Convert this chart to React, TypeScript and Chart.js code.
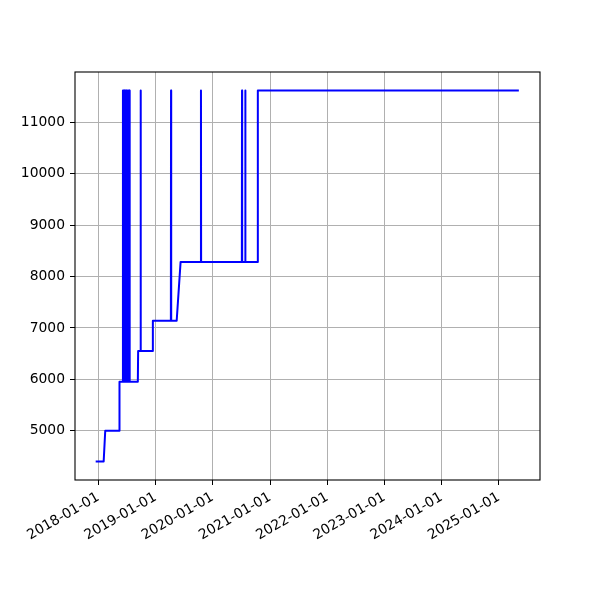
import React, { useEffect, useRef } from 'react';
import { Chart, registerables } from 'chart.js';

Chart.register(...registerables);

const DATES = [
  '2017-12-15', '2018-02-04', '2018-02-14', '2018-05-13', '2018-05-16', '2018-06-05',
  '2018-06-07', '2018-06-09', '2018-06-11', '2018-06-13', '2018-06-15', '2018-06-17',
  '2018-06-19', '2018-06-21', '2018-06-23', '2018-06-25', '2018-06-27', '2018-06-29',
  '2018-07-01', '2018-07-03', '2018-07-05', '2018-07-07', '2018-07-09', '2018-07-11',
  '2018-07-13', '2018-07-15', '2018-07-17', '2018-07-19', '2018-07-20', '2018-07-21',
  '2018-09-10', '2018-09-12', '2018-09-27', '2018-09-28', '2018-09-29',
  '2018-12-14', '2018-12-15', '2019-04-09', '2019-04-10', '2019-04-11',
  '2019-05-16', '2019-06-10', '2019-10-17', '2019-10-18', '2019-10-19',
  '2020-07-05', '2020-07-06', '2020-07-07', '2020-07-26', '2020-07-27', '2020-07-28',
  '2020-10-14', '2020-10-15', '2025-05-08',
];

const VALUES = [
  4405, 4405, 5000, 5000, 5954, 5954,
  11615, 5954, 11615, 5954, 11615, 5954,
  11615, 5954, 11615, 5954, 11615, 5954,
  11615, 5954, 11615, 5954, 11615, 5954,
  11615, 5954, 11615, 5954, 11615, 5954,
  5954, 6553, 6553, 11615, 6553,
  6553, 7140, 7140, 11615, 7140,
  7140, 8284, 8284, 11615, 8284,
  8284, 11615, 8284, 8284, 11615, 8284,
  8284, 11615, 11615,
];

const X_TICKS = [
  '2018-01-01', '2019-01-01', '2020-01-01', '2021-01-01',
  '2022-01-01', '2023-01-01', '2024-01-01', '2025-01-01',
];
const Y_TICKS = [5000, 6000, 7000, 8000, 9000, 10000, 11000];

const X_MIN = '2017-08-05';
const X_MAX = '2025-09-20';
const Y_MIN = 4044;
const Y_MAX = 11975;

const ts = (d: string) => new Date(d + 'T00:00:00Z').getTime();

const framePlugin = {
  id: 'frame',
  afterDraw(chart: any) {
    const { ctx, chartArea } = chart;
    ctx.save();
    ctx.strokeStyle = '#000';
    ctx.lineWidth = 1.1;
    ctx.strokeRect(chartArea.left, chartArea.top, chartArea.right - chartArea.left, chartArea.bottom - chartArea.top);
    ctx.restore();
  },
};

export default function App() {
  const ref = useRef<HTMLCanvasElement | null>(null);

  useEffect(() => {
    if (!ref.current) return;
    const font = { family: 'DejaVu Sans', size: 13.89 };
    const chart = new Chart(ref.current, {
      type: 'line',
      data: {
        datasets: [
          {
            data: DATES.map((d, i) => ({ x: ts(d), y: VALUES[i] })),
            borderColor: '#0000ff',
            borderWidth: 2,
            pointRadius: 0,
            tension: 0,
            fill: false,
            borderJoinStyle: 'round',
          },
        ],
      },
      options: {
        animation: false,
        responsive: false,
        layout: { padding: { top: 72, right: 60, left: 0, bottom: 0 } },
        plugins: { legend: { display: false }, tooltip: { enabled: false } },
        scales: {
          x: {
            type: 'linear',
            min: ts(X_MIN),
            max: ts(X_MAX),
            afterBuildTicks: (scale: any) => {
              scale.ticks = X_TICKS.map((d) => ({ value: ts(d) }));
            },
            afterFit: (scale: any) => {
              scale.height = 120;
              scale.paddingLeft = 0;
              scale.paddingRight = 0;
            },
            grid: {
              color: '#b0b0b0',
              lineWidth: 1,
              tickColor: '#000',
              tickLength: 5,
              tickWidth: 1,
            },
            border: { display: false },
            ticks: {
              autoSkip: false,
              minRotation: 30,
              maxRotation: 30,
              padding: 4,
              color: '#000',
              font,
              callback: (v: any) => new Date(v).toISOString().slice(0, 10),
            },
          },
          y: {
            type: 'linear',
            min: Y_MIN,
            max: Y_MAX,
            afterBuildTicks: (scale: any) => {
              scale.ticks = Y_TICKS.map((v) => ({ value: v }));
            },
            afterFit: (scale: any) => {
              scale.width = 75;
              scale.paddingTop = 0;
              scale.paddingBottom = 0;
            },
            grid: {
              color: '#b0b0b0',
              lineWidth: 1,
              tickColor: '#000',
              tickLength: 5,
              tickWidth: 1,
            },
            border: { display: false },
            ticks: {
              padding: 5,
              color: '#000',
              font,
              callback: (v: any) => String(v),
            },
          },
        },
      },
      plugins: [framePlugin],
    });
    return () => chart.destroy();
  }, []);

  return (
    <div style={{ position: 'absolute', left: 0, top: 0, width: 600, height: 600, background: '#fff' }}>
      <canvas ref={ref} width={600} height={600} />
    </div>
  );
}
